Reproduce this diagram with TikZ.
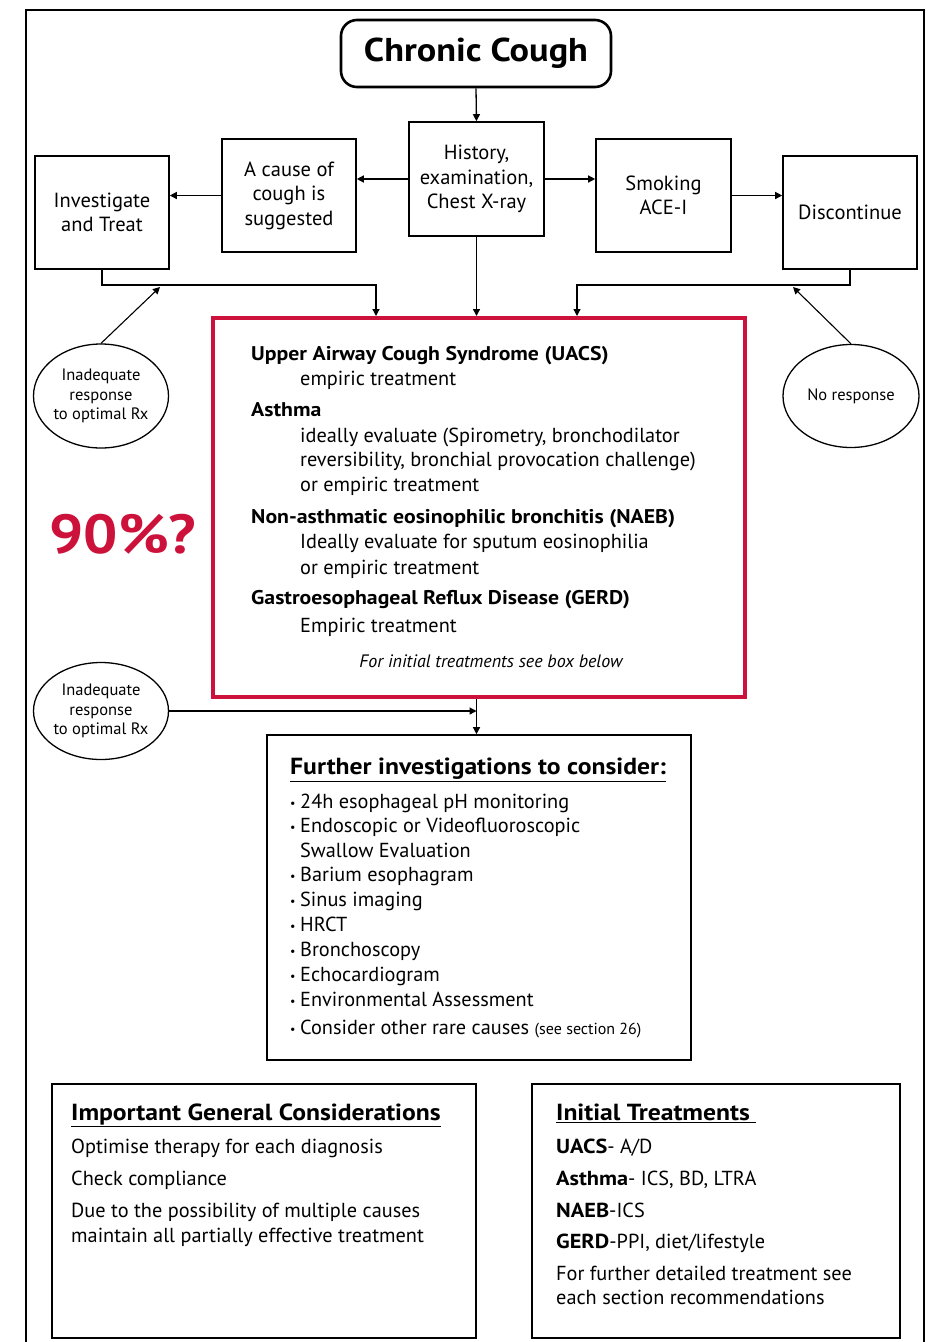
\documentclass[tikz,border=0pt]{standalone}
\usepackage{fontspec}
\setmainfont{PT Sans}[BoldFeatures={FakeStretch=1.1}]
\usetikzlibrary{shapes.geometric,arrows.meta}
\definecolor{hred}{RGB}{204,18,58}
\newcommand\fs[2]{\fontsize{#1}{#2}\selectfont}
\newcommand\bul{\makebox[10pt][l]{\fs{12}{12}\raisebox{1.5pt}{•}}}
\tikzset{
  box/.style={draw, line width=1.6pt, inner sep=0pt, align=center, font=\fs{20.5}{24.5}},
  ell/.style={draw, ellipse, line width=1.3pt, inner sep=0pt, align=center, font=\fs{16.5}{19.5}},
  arr/.style={line width=1.3pt, -{Triangle[length=7pt,width=7pt]}},
  txt/.style={anchor=mid west, inner sep=0pt, yshift=-4pt, font=\fs{20.3}{24}},
  hd/.style={txt, font=\bfseries\fs{19.8}{24}},
  ttl/.style={txt, font=\bfseries\fs{23.3}{26}},
}
\begin{document}
\begin{tikzpicture}[x=1pt,y=-1pt]
\useasboundingbox (0,0) rectangle (933,1342);
\fill[white] (0,0) rectangle (933,1342);
% outer frame
\draw[line width=2.4pt] (26,1350) -- (26,10) -- (924,10) -- (924,1350);

% top row
\node[box, rounded corners=16pt, line width=2.6pt, minimum width=270, minimum height=67, font=\bfseries\fs{33}{36}] (cc) at (476,53.5) {Chronic Cough};
\node[box, minimum width=135, minimum height=114] (hist) at (476.5,179) {History,\\examination,\\Chest X-ray};
\node[box, minimum width=134, minimum height=113] (cause) at (289,195.5) {A cause of\\cough is\\suggested};
\node[box, minimum width=134, minimum height=113] (inv) at (102,212.5) {Investigate\\and Treat};
\node[box, minimum width=135, minimum height=113] (smk) at (663.5,195.5) {Smoking\\ACE-I};
\node[box, minimum width=134, minimum height=113] (disc) at (850,212.5) {Discontinue};

\draw[arr] (cc.south) -- (hist.north);
\draw[arr] (hist.west) -- (cause.east |- hist.west);
\draw[arr] (cause.west) -- (inv.east |- cause.west);
\draw[arr] (hist.east) -- (smk.west |- hist.east);
\draw[arr] (smk.east) -- (disc.west |- smk.east);

% main red box
\node[draw=hred, line width=4pt, minimum width=532, minimum height=379, inner sep=0pt] (main) at (479,507.5) {};
\coordinate (bus) at (0,285);
\coordinate (inL) at (376,316);
\coordinate (inR) at (577,316);
\draw[arr] (inv.south) -- (inv.south |- bus) -- (inL |- bus) -- (inL);
\draw[arr] (disc.south) -- (disc.south |- bus) -- (inR |- bus) -- (inR);
\draw[arr] (hist.south) -- (hist |- inL);

% ellipses
\node[ell, minimum width=135, minimum height=104] (e1) at (101,396) {Inadequate\\response\\to optimal Rx};
\node[ell, minimum width=136, minimum height=103] (e2) at (851,396) {No response};
\node[ell, minimum width=135, minimum height=97] (e3) at (101,711) {Inadequate\\response\\to optimal Rx};
\coordinate (a1) at (160,287);
\coordinate (a2) at (793,287);
\draw[line width=1.1pt, -{Triangle[length=7pt,width=7pt]}] (e1.north) -- (a1);
\draw[line width=1.1pt, -{Triangle[length=7pt,width=7pt]}] (e2.north) -- (a2);

% text in red box
\node[hd] (t1) at (251,354) {Upper Airway Cough Syndrome (UACS)};
\node[txt] (t2) at (300,379) {empiric treatment};
\node[hd] (t3) at (251,410) {Asthma};
\node[txt] (t4) at (300,436) {ideally evaluate (Spirometry, bronchodilator};
\node[txt] (t5) at (300,460) {reversibility, bronchial provocation challenge)};
\node[txt] (t6) at (300,485) {or empiric treatment};
\node[hd] (t7) at (251,517) {Non-asthmatic eosinophilic bronchitis (NAEB)};
\node[txt] (t8) at (300,542) {Ideally evaluate for sputum eosinophilia};
\node[txt] (t9) at (300,568) {or empiric treatment};
\node[hd] (t10) at (251,598) {Gastroesophageal Reflux Disease (GERD)};
\node[txt] (t11) at (300,626) {Empiric treatment};
\node[txt, anchor=mid, font=\itshape\fs{18}{20}] (t12) at (491,661) {For initial treatments see box below};

\node[anchor=base, inner sep=0pt, text=hred, font=\bfseries\fs{55}{60}] (pct) at (123,553) {90\%?};

% further investigations
\node[box, minimum width=424, minimum height=325] (fur) at (479,897.5) {};
\draw[arr] (e3.east) -- (hist |- e3.east);
\draw[arr] (hist |- main.south) -- (hist |- fur.north);
\node[ttl] (f0) at (290,768) {\underline{Further investigations to consider:}};
\node[txt] (f1) at (290,802) {\bul 24h esophageal pH monitoring};
\node[txt] (f2) at (290,826) {\bul Endoscopic or Videofluoroscopic};
\node[txt] (f3) at (300,851) {Swallow Evaluation};
\node[txt] (f4) at (290,875) {\bul Barium esophagram};
\node[txt] (f5) at (290,900) {\bul Sinus imaging};
\node[txt] (f6) at (290,925) {\bul HRCT};
\node[txt] (f7) at (290,950) {\bul Bronchoscopy};
\node[txt] (f8) at (290,975) {\bul Echocardiogram};
\node[txt] (f9) at (290,1000) {\bul Environmental Assessment};
\node[txt] (f10) at (290,1028) {\bul Consider other rare causes {\fs{16}{18}(see section 26)}};

% important general considerations
\node[box, minimum width=424, minimum height=254] (imp) at (264,1211) {};
\node[ttl] (g0) at (71,1114) {\underline{Important General Considerations}};
\node[txt] (g1) at (71,1147) {Optimise therapy for each diagnosis};
\node[txt] (g2) at (71,1179) {Check compliance};
\node[txt] (g3) at (71,1211) {Due to the possibility of multiple causes};
\node[txt] (g4) at (71,1236) {maintain all partially effective treatment};

% initial treatments
\node[box, minimum width=368, minimum height=254] (ini) at (716,1211) {};
\node[ttl] (i0) at (556,1114) {\underline{Initial Treatments\ }};
\node[txt] (i1) at (556,1147) {\textbf{UACS}- A/D};
\node[txt] (i2) at (556,1179) {\textbf{Asthma}- ICS, BD, LTRA};
\node[txt] (i3) at (556,1211) {\textbf{NAEB}-ICS};
\node[txt] (i4) at (556,1242) {\textbf{GERD}-PPI, diet/lifestyle};
\node[txt] (i5) at (556,1274) {For further detailed treatment see};
\node[txt] (i6) at (556,1298) {each section recommendations};
\end{tikzpicture}
\end{document}
